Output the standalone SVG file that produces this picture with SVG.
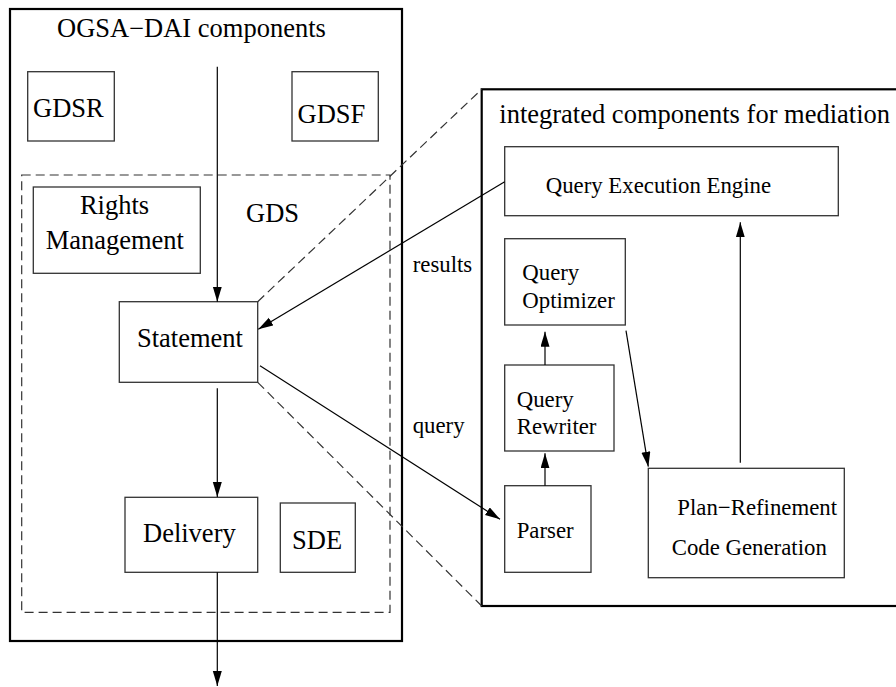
<svg xmlns="http://www.w3.org/2000/svg" width="896" height="687" viewBox="0 0 896 687" font-family="'Liberation Serif', 'Times New Roman', serif">
  <defs>
    <marker id="arrow" markerUnits="userSpaceOnUse" markerWidth="16" markerHeight="10" refX="15" refY="4.5" orient="auto">
      <path d="M0,0 L15,4.5 L0,9 z" fill="#000"/>
    </marker>
    <style>
      text { font-family: "Liberation Serif", "Times New Roman", serif; fill: #000; }
      .big { font-size: 26.5px; }
      .small { font-size: 22.8px; }
      .frame { fill: none; stroke: #000; stroke-width: 2.2; }
      .box { fill: none; stroke: #333; stroke-width: 1.3; }
      .dash { fill: none; stroke: #333; stroke-width: 1.2; stroke-dasharray: 9 5; }
      .link { fill: none; stroke: #000; stroke-width: 1.2; }
    </style>
  </defs>
  <rect width="896" height="687" fill="#fff"/>

  <!-- OGSA-DAI container -->
  <g id="ogsa-dai">
    <rect class="frame" x="10" y="9" width="392" height="632"/>
    <text class="big" x="57" y="37">OGSA−DAI components</text>
  </g>

  <!-- GDS boundary -->
  <g id="gds">
    <rect class="dash" x="21.7" y="175" width="368.3" height="437.3"/>
    <text class="big" x="246" y="221.7">GDS</text>
  </g>

  <g id="gdsr">
    <rect class="box" x="27.7" y="71.7" width="86.6" height="69.3"/>
    <text class="big" x="33" y="117.3">GDSR</text>
  </g>

  <g id="gdsf">
    <rect class="box" x="292" y="71.7" width="86.3" height="69.3"/>
    <text class="big" x="297.5" y="123.3">GDSF</text>
  </g>

  <g id="rights-management">
    <rect class="box" x="33.3" y="187" width="167" height="86.3"/>
    <text class="big" x="114.5" y="214.3" text-anchor="middle">Rights</text>
    <text class="big" x="114.8" y="249.3" text-anchor="middle">Management</text>
  </g>

  <g id="statement">
    <rect class="box" x="119.3" y="301.7" width="138.4" height="80.6"/>
    <text class="big" x="137" y="347.3">Statement</text>
  </g>

  <g id="delivery">
    <rect class="box" x="125" y="497.3" width="132.7" height="75"/>
    <text class="big" x="143" y="542.3">Delivery</text>
  </g>

  <g id="sde">
    <rect class="box" x="280.3" y="503" width="75" height="69.3"/>
    <text class="big" x="292" y="549">SDE</text>
  </g>

  <!-- mediation container -->
  <g id="mediation">
    <rect class="frame" x="481.7" y="89.3" width="430" height="516.7"/>
    <text class="big" x="499.3" y="123.3">integrated components for mediation</text>
  </g>

  <g id="query-execution-engine">
    <rect class="box" x="504.7" y="146.7" width="333.6" height="69"/>
    <text class="small" x="545.7" y="193.3">Query Execution Engine</text>
  </g>

  <g id="query-optimizer">
    <rect class="box" x="504.7" y="238.7" width="120.6" height="86.3"/>
    <text class="small" x="522.3" y="280">Query</text>
    <text class="small" x="522.3" y="308.3">Optimizer</text>
  </g>

  <g id="query-rewriter">
    <rect class="box" x="504.7" y="365" width="109.3" height="86"/>
    <text class="small" x="516.7" y="406.7">Query</text>
    <text class="small" x="516.7" y="434">Rewriter</text>
  </g>

  <g id="parser">
    <rect class="box" x="504.7" y="485.7" width="86.3" height="86.6"/>
    <text class="small" x="516.7" y="538.3">Parser</text>
  </g>

  <g id="plan-refinement">
    <rect class="box" x="648.3" y="468.3" width="196" height="109.4"/>
    <text class="small" x="677.3" y="515">Plan−Refinement</text>
    <text class="small" x="671.7" y="555">Code Generation</text>
  </g>

  <!-- connectors -->
  <g id="connectors">
    <line class="link" x1="217.3" y1="66.7" x2="217.3" y2="301.7" marker-end="url(#arrow)"/>
    <line class="link" x1="217.3" y1="388.3" x2="217.3" y2="497" marker-end="url(#arrow)"/>
    <line class="link" x1="217.3" y1="572.3" x2="217.3" y2="686" marker-end="url(#arrow)"/>
    <line class="link" x1="504.7" y1="181.7" x2="258.3" y2="329.3" marker-end="url(#arrow)"/>
    <line class="link" x1="260" y1="365.7" x2="500" y2="519.3" marker-end="url(#arrow)"/>
    <line class="link" x1="545" y1="485.7" x2="545" y2="453.3" marker-end="url(#arrow)"/>
    <line class="link" x1="545" y1="365" x2="545" y2="331.7" marker-end="url(#arrow)"/>
    <line class="link" x1="626" y1="330.7" x2="648.3" y2="466.7" marker-end="url(#arrow)"/>
    <line class="link" x1="740.3" y1="462.7" x2="740.3" y2="222.3" marker-end="url(#arrow)"/>
    <line class="dash" x1="257.7" y1="301.7" x2="481.7" y2="89.3"/>
    <line class="dash" x1="257.7" y1="382.3" x2="481.7" y2="606"/>
    <text class="small" x="412.7" y="271.7">results</text>
    <text class="small" x="412.7" y="433.3">query</text>
  </g>
</svg>
